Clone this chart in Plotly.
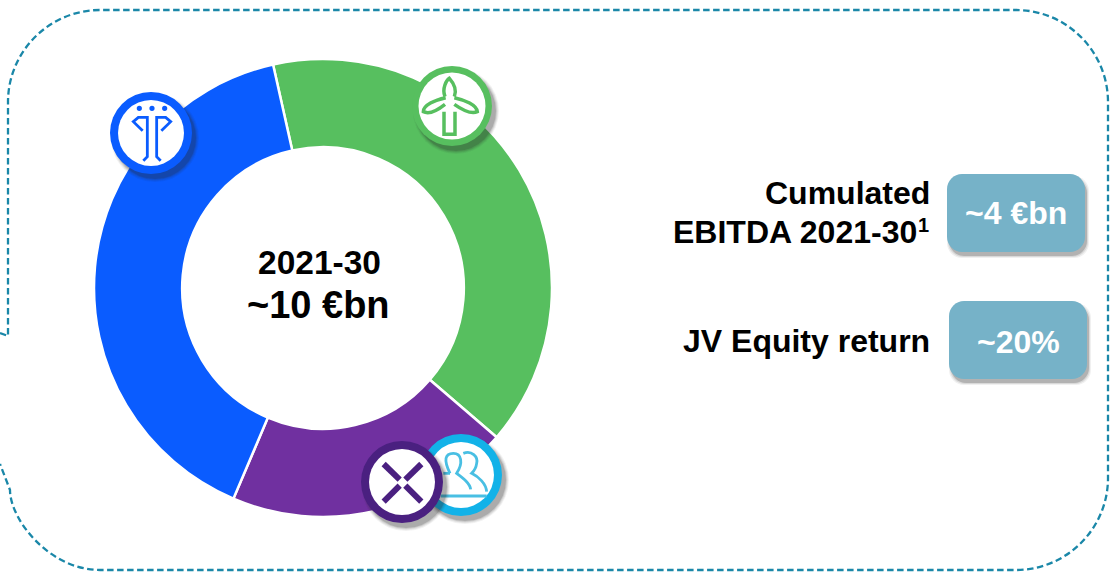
import plotly.graph_objects as go

W, H = 1111, 573

# Data
segments = ["Wind", "Community", "Grid"]
segment_values = [39.8, 20.1, 40.1]
segment_colors = ["#57BF5F", "#7030A0", "#0A5CFF"]
centre_lines = ["2021-30", "~10 €bn"]
kpi_labels = ["Cumulated", "EBITDA 2021-30", "JV Equity return"]
footnote_mark = "1"
kpi_values = ["~4 €bn", "~20%"]

BORDER = "#1A87A8"
BOX = "#76B2C8"


def px(x):
    return x / W


def py(y):
    return 1 - y / H


def P(x, y):
    return f"{px(x):.5f},{py(y):.5f}"


shapes = []


def add_path(d, color=None, width=0, fill=None, dash=None):
    line = dict(color=color or "rgba(0,0,0,0)", width=width)
    if dash:
        line["dash"] = dash
    s = dict(type="path", xref="paper", yref="paper", path=d, line=line, layer="above")
    if fill:
        s["fillcolor"] = fill
    shapes.append(s)


def circle(cx, cy, r, fill, color=None, width=0):
    line = dict(color=color or "rgba(0,0,0,0)", width=width)
    shapes.append(dict(type="circle", xref="paper", yref="paper",
                       x0=px(cx - r), x1=px(cx + r), y0=py(cy + r), y1=py(cy - r),
                       fillcolor=fill, line=line, layer="above"))


def rrect_path(x0, y0, x1, y1, r):
    k = r * 0.45
    return ("M" + P(x0 + r, y0) + " L" + P(x1 - r, y0) +
            " C" + P(x1 - k, y0) + " " + P(x1, y0 + k) + " " + P(x1, y0 + r) +
            " L" + P(x1, y1 - r) +
            " C" + P(x1, y1 - k) + " " + P(x1 - k, y1) + " " + P(x1 - r, y1) +
            " L" + P(x0 + r, y1) +
            " C" + P(x0 + k, y1) + " " + P(x0, y1 - k) + " " + P(x0, y1 - r) +
            " L" + P(x0, y0 + r) +
            " C" + P(x0, y0 + k) + " " + P(x0 + k, y0) + " " + P(x0 + r, y0) + " Z")


def shadow_circle(cx, cy, r):
    for grow, alpha in ((3, 0.06), (2, 0.09), (1, 0.12), (0, 0.18)):
        circle(cx + 4, cy + 5, r + grow, f"rgba(40,40,40,{alpha})")


def icon(cx, cy, r, ri, ring):
    shadow_circle(cx, cy, r)
    circle(cx, cy, r, ring)
    circle(cx, cy, ri, "#FFFFFF")


def glyph(ox, oy, segs, color, width):
    """Stroke paths given in 3x crop coordinates around origin (ox, oy)."""
    for seg in segs:
        d = []
        for cmd in seg:
            letter, pts = cmd[0], cmd[1:]
            mapped = [P(ox + a / 3, oy + b / 3) for a, b in pts]
            if letter == "M":
                d.append("M" + mapped[0])
                d.extend("L" + m for m in mapped[1:])
            else:
                d.append(letter + " ".join(mapped))
        add_path(" ".join(d), color=color, width=width)


# Dashed frame
k = 0.55 * 92
frame = (
    "M" + P(0, 333) + " L" + P(8, 336) + " L" + P(8, 102) +
    " C" + P(8, 102 - k) + " " + P(100 - k, 10) + " " + P(100, 10) +
    " L" + P(1016, 10) +
    " C" + P(1016 + k, 10) + " " + P(1108, 102 - k) + " " + P(1108, 102) +
    " L" + P(1108, 478) +
    " C" + P(1108, 478 + k) + " " + P(1016 + k, 570) + " " + P(1016, 570) +
    " L" + P(100, 570) +
    " C" + P(100 - k, 570) + " " + P(10, 570 - k) + " " + P(10, 490) +
    " L" + P(0, 464)
)
add_path(frame, color=BORDER, width=2.3, dash="6.5px,3.5px")

# KPI boxes
for (x0, y0, x1, y1) in ((947, 174, 1085, 252), (949, 301, 1087, 379)):
    for grow, alpha in ((2, 0.07), (1, 0.11), (0, 0.22)):
        add_path(rrect_path(x0 + 2 - grow, y0 + 4 - grow, x1 + 2 + grow, y1 + 4 + grow, 15),
                 fill=f"rgba(40,40,40,{alpha})")
    add_path(rrect_path(x0, y0, x1, y1, 15), fill=BOX)

# Blue icon
icon(151, 133, 41, 33, "#0A5CFF")
glyph(90, 60, [
    [("M", (160, 302), (172, 290), (172, 172), (145, 172), (130, 185), (158, 212))],
    [("M", (212, 302), (200, 290), (200, 172), (227, 172), (242, 185), (214, 212))],
], "#0A5CFF", 2.8)
for dx in (148, 186, 224):
    circle(90 + dx / 3, 60 + 145 / 3, 2.6, "#0A5CFF")

# Wind icon
icon(452, 106, 40, 33.5, "#57BF5F")
glyph(395, 55, [
    [("M", (150, 125)), ("C", (140, 100), (155, 75), (163, 70)), ("C", (172, 80), (188, 100), (178, 125))],
    [("M", (152, 128)), ("C", (120, 135), (85, 150), (85, 170)), ("C", (105, 180), (135, 160), (150, 148))],
    [("M", (178, 128)), ("C", (210, 135), (245, 150), (247, 170)), ("C", (225, 180), (195, 160), (178, 148))],
    [("M", (147, 170), (147, 238), (180, 238), (180, 170))],
], "#57BF5F", 3.5)

# People icon
icon(461, 475, 41, 33, "#12B2E8")
glyph(350, 420, [
    [("M", (300, 160)), ("C", (280, 120), (285, 100), (310, 100)), ("C", (335, 100), (340, 130), (320, 160)),
     ("C", (340, 175), (360, 190), (362, 208))],
    [("M", (340, 100)), ("C", (365, 90), (385, 110), (380, 130)), ("C", (378, 145), (370, 155), (365, 160)),
     ("C", (385, 170), (408, 190), (410, 215))],
    [("M", (280, 160), (300, 160))],
    [("M", (272, 228), (410, 228))],
], "#49BFE3", 2.8)

# Cross icon
icon(402, 482, 41, 33, "#4A2080")
glyph(350, 420, [
    [("M", (101, 132), (149, 179))],
    [("M", (214, 132), (166, 179))],
    [("M", (101, 245), (149, 197))],
    [("M", (214, 245), (166, 197))],
], "#4A2080", 6)

annotations = []


def label(x, y, text, size, color="#000000", anchor="right"):
    annotations.append(dict(x=px(x), y=py(y), xref="paper", yref="paper", text=text,
                            showarrow=False, xanchor=anchor, yanchor="middle", align=anchor,
                            font=dict(family="Liberation Sans", size=size, color=color)))


label(319, 262, f"<b>{centre_lines[0]}</b>", 33.5, anchor="center")
label(318, 305, f"<b>{centre_lines[1]}</b>", 38, anchor="center")
label(932, 193, f"<b>{kpi_labels[0]}</b>", 32)
label(919, 232, f"<b>{kpi_labels[1]}</b>", 32)
label(931, 225, f"<b>{footnote_mark}</b>", 20)
label(932, 341, f"<b>{kpi_labels[2]}</b>", 32)
label(1016, 213, f"<b>{kpi_values[0]}</b>", 32, "#FFFFFF", "center")
label(1018, 342, f"<b>{kpi_values[1]}</b>", 32, "#FFFFFF", "center")

fig = go.Figure(go.Pie(
    labels=segments,
    values=segment_values,
    hole=0.615,
    sort=False,
    direction="clockwise",
    rotation=-12.6,
    textinfo="none",
    marker=dict(colors=segment_colors, line=dict(color="#FFFFFF", width=2.5)),
    domain=dict(x=[px(94), px(552)], y=[py(517), py(59)]),
    showlegend=False,
))
fig.update_layout(
    width=W, height=H, margin=dict(l=0, r=0, t=0, b=0),
    paper_bgcolor="#FFFFFF", plot_bgcolor="#FFFFFF",
    shapes=shapes, annotations=annotations, showlegend=False,
)
fig.write_html("out.html", config=dict(displayModeBar=False),
               post_script="document.body.style.margin='0';")
